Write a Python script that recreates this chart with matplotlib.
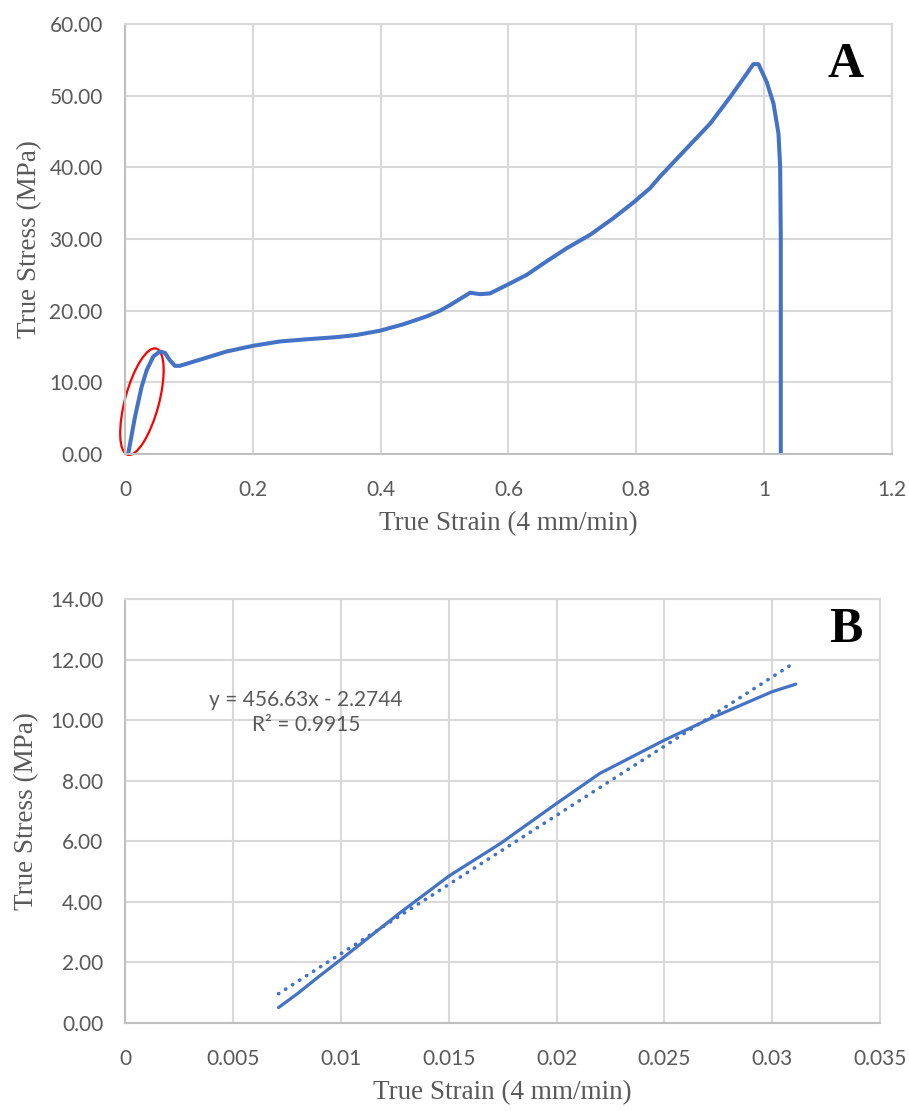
import matplotlib
matplotlib.use("Agg")
import matplotlib.pyplot as plt
from matplotlib.patches import Ellipse
from matplotlib.transforms import ScaledTranslation

# panel A: full true stress-strain curve
strain_a = [0.005, 0.0157, 0.0261, 0.034, 0.0443, 0.0548, 0.0626, 0.070, 0.078, 0.086,
            0.1225, 0.159, 0.2008, 0.2426, 0.284, 0.331, 0.362, 0.399, 0.4356, 0.472,
            0.493, 0.509, 0.540, 0.5556, 0.571, 0.6025, 0.6286, 0.660, 0.691, 0.728,
            0.764, 0.7955, 0.8216, 0.837, 0.874, 0.9155, 0.9468, 0.973, 0.983, 0.991,
            1.004, 1.0146, 1.0224, 1.025, 1.026, 1.026]
stress_a = [0, 5.2, 9.4, 11.7, 13.6, 14.3, 14.1, 13.1, 12.3, 12.3,
            13.3, 14.3, 15.1, 15.7, 16.0, 16.3, 16.6, 17.2, 18.1, 19.2,
            20.0, 20.8, 22.5, 22.3, 22.4, 23.8, 25.0, 26.9, 28.7, 30.6,
            32.9, 35.1, 37.1, 38.7, 42.2, 46.1, 49.8, 53.1, 54.4, 54.4,
            51.9, 48.9, 44.7, 40.1, 30.0, 0]

# panel B: elastic region + linear trendline
strain_b = [0.0071, 0.0080, 0.0090, 0.0100, 0.0127, 0.0150, 0.0174, 0.0200,
            0.0220, 0.0250, 0.0273, 0.0300, 0.0311]
stress_b = [0.51, 0.98, 1.55, 2.10, 3.62, 4.85, 5.93, 7.25,
            8.24, 9.34, 10.11, 10.94, 11.19]
slope, intercept = 456.63, -2.2744
fit_x = [0.0071, 0.0308]
fit_y = [slope * x + intercept for x in fit_x]

xticks_a = [0, 0.2, 0.4, 0.6, 0.8, 1.0, 1.2]
xlabels_a = ["0", "0.2", "0.4", "0.6", "0.8", "1", "1.2"]
yticks_a = [0, 10, 20, 30, 40, 50, 60]
xticks_b = [0, 0.005, 0.01, 0.015, 0.02, 0.025, 0.03, 0.035]
xlabels_b = ["0", "0.005", "0.01", "0.015", "0.02", "0.025", "0.03", "0.035"]
yticks_b = [0, 2, 4, 6, 8, 10, 12, 14]

blue = "#4472C4"
grid = "#D9D9D9"
tick_col = "#595959"
serif = "Liberation Serif"
sans = "Lato"

fig = plt.figure(figsize=(9.09, 11.11), dpi=100)
ax1 = fig.add_axes([0.1375, 0.5914, 0.9813 - 0.1375, 0.9784 - 0.5914])
ax2 = fig.add_axes([0.138, 0.0792, 0.968 - 0.138, 0.4608 - 0.0792])


def style(ax, xt, xl, yt, ypad):
    ax.set_xticks(xt)
    ax.set_xticklabels(xl)
    ax.set_yticks(yt)
    ax.set_yticklabels(["%.2f" % v for v in yt])
    ax.set_xlim(xt[0], xt[-1])
    ax.set_ylim(yt[0], yt[-1])
    ax.grid(True, color=grid, linewidth=1.5)
    ax.set_axisbelow(True)
    for s in ax.spines.values():
        s.set_color(grid)
        s.set_linewidth(1.5)
    ax.spines["left"].set_color("#BFBFBF")
    ax.spines["bottom"].set_color("#BFBFBF")
    ax.tick_params(length=0, labelsize=15, labelcolor=tick_col)
    ax.tick_params(axis="x", pad=19)
    ax.tick_params(axis="y", pad=16)
    for lab in ax.get_xticklabels() + ax.get_yticklabels():
        lab.set_fontfamily(sans)
    ax.set_xlabel("True Strain (4 mm/min)", fontfamily=serif, fontsize=19.5,
                  color=tick_col, labelpad=8)
    ax.set_ylabel("True Stress (MPa)", fontfamily=serif, fontsize=19.5,
                  color=tick_col, labelpad=ypad)


style(ax1, xticks_a, xlabels_a, yticks_a, 5)
style(ax2, xticks_b, xlabels_b, yticks_b, 8)

ax1.plot(strain_a, stress_a, color=blue, linewidth=2.9, solid_joinstyle="round")
# red ellipse around the elastic region
ell = Ellipse((0, 0), width=1.10, height=0.34, angle=75, fill=False,
              edgecolor="red", linewidth=1.6, clip_on=False,
              transform=fig.dpi_scale_trans + ScaledTranslation(0.0265, 7.3, ax1.transData))
ax1.add_patch(ell)
ax1.text(0.94, 0.905, "A", transform=ax1.transAxes, ha="center", va="center",
         fontfamily=serif, fontweight="bold", fontsize=36)

ax2.plot(strain_b, stress_b, color=blue, linewidth=2.3, solid_capstyle="round")
ax2.plot(fit_x, fit_y, color=blue, linewidth=2.6, linestyle=(0, (0.1, 2.2)),
         dash_capstyle="round")
ax2.text(0.00838, 10.25, "y = 456.63x - 2.2744\nR² = 0.9915", ha="center", va="center",
         multialignment="center", fontfamily=sans, fontsize=15, color=tick_col,
         linespacing=1.35)
ax2.text(0.955, 0.927, "B", transform=ax2.transAxes, ha="center", va="center",
         fontfamily=serif, fontweight="bold", fontsize=36)

fig.savefig("out.png", dpi=100)
